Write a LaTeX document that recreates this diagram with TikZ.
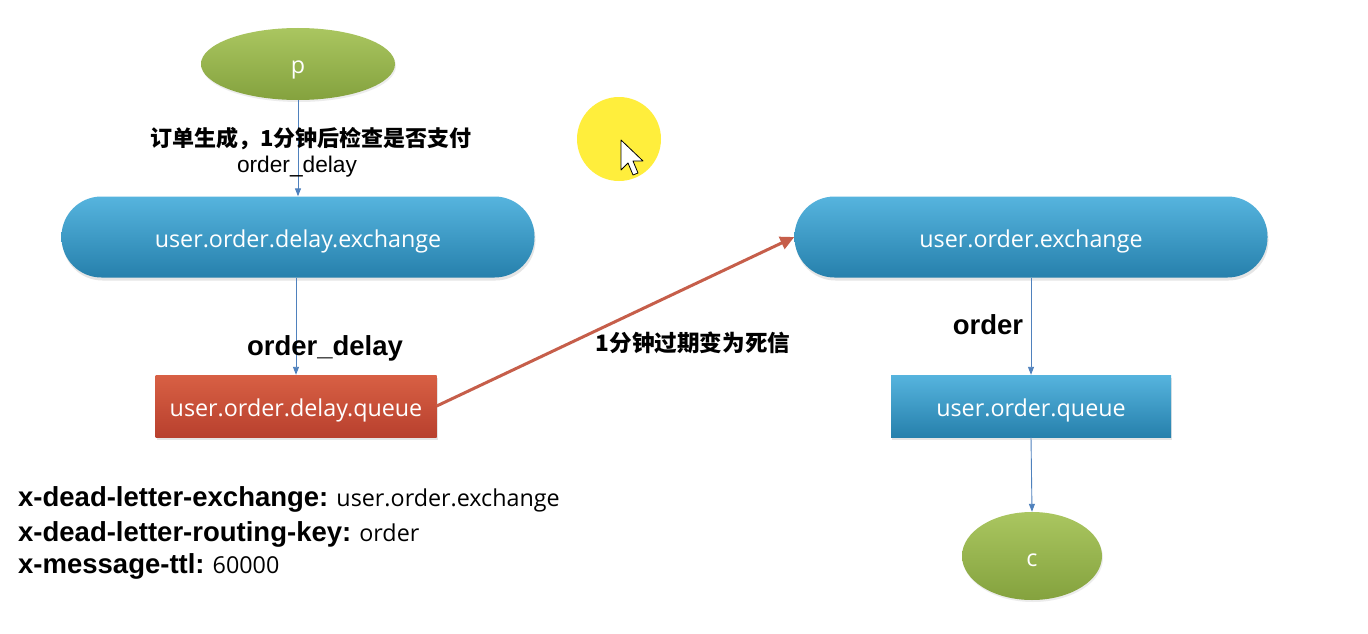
\documentclass[tikz,border=0pt]{standalone}
\usepackage{fontspec}
\setmainfont{Open Sans}
\newfontfamily\arial{Liberation Sans}
\newfontfamily\cjk{Noto Sans CJK SC}
\usetikzlibrary{arrows.meta,shapes.geometric,shadows}
\definecolor{grTop}{RGB}{170,198,96}
\definecolor{grBot}{RGB}{132,162,62}
\definecolor{blTop}{RGB}{86,180,222}
\definecolor{blBot}{RGB}{38,128,172}
\definecolor{rdTop}{RGB}{216,96,68}
\definecolor{rdBot}{RGB}{184,64,46}
\definecolor{lineblue}{RGB}{79,129,189}
\definecolor{arrred}{RGB}{198,94,74}
\definecolor{hilite}{RGB}{255,238,60}
\tikzset{
  boxfont/.style={font=\fontsize{23.3}{26}\selectfont, text height=20pt, text depth=0pt},
  ell/.style={ellipse, top color=grTop, bottom color=grBot, text=white, boxfont, inner sep=0pt,
     drop shadow={shadow xshift=1pt, shadow yshift=-2pt, opacity=0.15}},
  exch/.style={rectangle, rounded corners=40pt, minimum width=473pt, minimum height=81pt,
     top color=blTop, bottom color=blBot, text=white, boxfont, inner sep=0pt,
     drop shadow={shadow xshift=1pt, shadow yshift=-3pt, opacity=0.2}},
  bluequeue/.style={rectangle, minimum width=280pt, minimum height=62pt,
     top color=blTop, bottom color=blBot, text=white, boxfont, inner sep=0pt,
     drop shadow={shadow xshift=1pt, shadow yshift=-3pt, opacity=0.2}},
  redqueue/.style={rectangle, minimum width=281pt, minimum height=62pt,
     top color=rdTop, bottom color=rdBot, text=white, boxfont, inner sep=0pt,
     drop shadow={shadow xshift=1pt, shadow yshift=-3pt, opacity=0.2}},
  flow/.style={draw=lineblue, line width=0.9pt, -{Triangle[length=8pt,width=6pt]}},
  deadflow/.style={draw=arrred, line width=3pt, -{Triangle[length=14pt,width=13pt]}},
  boldlbl/.style={font=\arial\bfseries\fontsize{27.5}{30}\selectfont, text=black, inner sep=0pt},
  cjklbl/.style={font=\cjk\bfseries\fontsize{22}{26}\selectfont, text=black, inner sep=0pt},
  plainlbl/.style={font=\arial\fontsize{22.7}{26}\selectfont, text=black, inner sep=0pt},
  attr/.style={anchor=base west, inner sep=0pt, text=black, font=\fontsize{23.3}{26}\selectfont},
}
\begin{document}
\begin{tikzpicture}[x=1pt,y=-1pt]
\useasboundingbox (0,0) rectangle (1368,634);
\fill[white] (0,0) rectangle (1368,634);

% highlight circle with cursor
\fill[hilite] (619,139) circle (42pt);
\filldraw[fill=white, draw=black, line width=0.8pt, line join=round]
  (621,140) -- (621,170) -- (628,163) -- (633,175) -- (638,173) -- (633,161) -- (643,161) -- cycle;

% nodes
\node[ell, minimum width=194pt, minimum height=72pt] (p) at (298,64) {p};
\node[exch] (dx) at (298,237) {user.order.delay.exchange};
\node[redqueue] (dq) at (296,406) {user.order.delay.queue};
\node[exch] (ox) at (1031,237) {user.order.exchange};
\node[bluequeue] (oq) at (1031,406) {user.order.queue};
\node[ell, minimum width=140pt, minimum height=88pt] (c) at (1032,556) {c};

% connectors
\draw[flow] (p.south) -- (dx.north);
\draw[flow] (dx.south -| dq.north) -- (dq.north);
\draw[flow] (ox.south) -- (oq.north);
\draw[flow] (oq.south) -- (c.north);
\draw[deadflow] (dq.east) -- (ox.west);

% labels
\node[cjklbl] (l1) at (311,139) {订单生成，1分钟后检查是否支付};
\node[plainlbl] (l2) at (297,167) {order\_delay};
\node[boldlbl] (l3) at (325,348) {order\_delay};
\node[boldlbl] (l4) at (988,325) {order};
\node[cjklbl, font=\cjk\bfseries\fontsize{22.6}{26}\selectfont] (l5) at (693,343) {1分钟过期变为死信};

% attributes
\node[attr] (a1) at (18,506) {{\arial\bfseries\fontsize{27.5}{30}\selectfont x-dead-letter-exchange:} user.order.exchange};
\node[attr] (a2) at (18,541) {{\arial\bfseries\fontsize{27.5}{30}\selectfont x-dead-letter-routing-key:} order};
\node[attr] (a3) at (18,573) {{\arial\bfseries\fontsize{27.5}{30}\selectfont x-message-ttl:} 60000};
\end{tikzpicture}
\end{document}
